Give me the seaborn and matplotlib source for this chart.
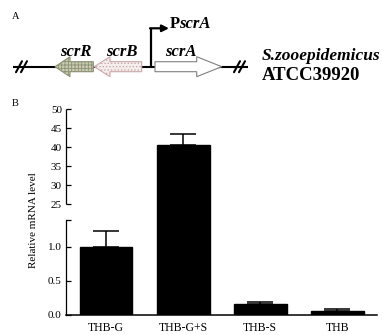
import numpy as np
import pandas as pd
import matplotlib
matplotlib.use("Agg")
import matplotlib.pyplot as plt
from matplotlib.patches import Polygon
import seaborn as sns

# ---------------- data ----------------
categories = ["THB-G", "THB-G+S", "THB-S", "THB"]
values = [1.0, 40.6, 0.157, 0.06]
errors = [0.235, 2.8, 0.03, 0.024]
ytick_vals = [0.0, 0.5, 1.0, 1.4, 25, 30, 35, 40, 45, 50]
ytick_labels = ["0.0", "0.5", "1.0", "", "25", "30", "35", "40", "45", "50"]

genes = ["scrR", "scrB", "scrA"]
gene_tail = [93.3, 141.7, 155.0]
gene_tip = [55.0, 94.3, 221.7]
gene_headbase = [70.0, 110.0, 196.7]
gene_label_x = [76, 122, 181]

# ---------------- style ----------------
sns.set_style("ticks")
plt.rcParams["font.family"] = ["Liberation Serif", "DejaVu Serif"]
plt.rcParams["hatch.linewidth"] = 0.6
for key in ("text.color", "axes.labelcolor", "xtick.color", "ytick.color", "axes.edgecolor"):
    plt.rcParams[key] = "black"

fig = plt.figure(figsize=(3.82, 3.35), dpi=100)

# ---------------- panel A (schematic, pixel coordinates) ----------------
axA = fig.add_axes([0, 0, 1, 1])
axA.set_xlim(0, 382)
axA.set_ylim(335, 0)
axA.axis("off")

yc = 66.7
axA.plot([13, 248], [yc, yc], color="black", lw=1.5, zorder=1, solid_capstyle="butt")
for bx in (16, 234):
    for dx in (0, 5):
        axA.plot([bx + dx, bx + dx + 6], [yc + 5.5, yc - 5.5], color="black", lw=1.5, zorder=3)

styles = [
    dict(facecolor="#c9ccb0", hatch="+++++", edgecolor="#8d9175"),
    dict(facecolor="#f7eeee", hatch=".....", edgecolor="#c9a9a9"),
    dict(facecolor="white", hatch=None, edgecolor="#808080"),
]
for tail, tip, hb, st, name, lx in zip(gene_tail, gene_tip, gene_headbase, styles, genes, gene_label_x):
    pts = [(tail, yc - 5), (hb, yc - 5), (hb, yc - 10), (tip, yc),
           (hb, yc + 10), (hb, yc + 5), (tail, yc + 5)]
    poly = Polygon(pts, closed=True, facecolor=st["facecolor"], edgecolor=st["edgecolor"],
                   hatch=st["hatch"], lw=0.8, zorder=2)
    axA.add_patch(poly)
    axA.text(lx, 56, name, ha="center", va="baseline", fontsize=12,
             fontstyle="italic", fontweight="bold")

# Promoter arrow
axA.plot([150.7, 150.7], [yc, 28.3], color="black", lw=1.6, zorder=3, solid_capstyle="butt")
axA.annotate("", xy=(169, 28.3), xytext=(150.0, 28.3),
             arrowprops=dict(arrowstyle="-|>", lw=1.6, color="black", mutation_scale=10,
                             shrinkA=0, shrinkB=0))
axA.text(170, 28.5, "P", ha="left", va="baseline", fontsize=12, fontweight="bold")
axA.text(179, 28.5, "scrA", ha="left", va="baseline", fontsize=12, fontweight="bold",
         fontstyle="italic")

axA.text(261.5, 60, "S.zooepidemicus", ha="left", va="baseline", fontsize=12.5,
         fontstyle="italic", fontweight="bold")
axA.text(262, 80, "ATCC39920", ha="left", va="baseline", fontsize=13.5, fontweight="bold")

axA.text(12, 19, "A", ha="left", va="baseline", fontsize=7.5)
axA.text(12, 106, "B", ha="left", va="baseline", fontsize=7.5)

# ---------------- panel B (bar chart with broken axis) ----------------
k1 = 0.228 / 23.6
k2 = 1.397 / 25.0


def fwd(y):
    y = np.asarray(y, dtype=float)
    return np.where(y <= 1.4, y,
                    np.where(y <= 25, 1.4 + (y - 1.4) * k1, 1.628 + (y - 25) * k2))


def inv(t):
    t = np.asarray(t, dtype=float)
    return np.where(t <= 1.4, t,
                    np.where(t <= 1.628, 1.4 + (t - 1.4) / k1, 25 + (t - 1.628) / k2))


left, right = 66.0 / 382, 376.5 / 382
bottom, top = 1 - 315 / 335, 1 - 109.3 / 335
ax = fig.add_axes([left, bottom, right - left, top - bottom])
ax.patch.set_alpha(0)

df = pd.DataFrame({"cond": categories, "val": values})
sns.barplot(data=df, x="cond", y="val", color="black", width=0.686, errorbar=None,
            saturation=1, edgecolor="black", ax=ax)
ax.errorbar(np.arange(len(categories)), values,
            yerr=[np.zeros(len(errors)), errors], fmt="none", ecolor="black",
            elinewidth=1.1, capsize=9.4, capthick=1.1, zorder=1)

ax.set_yscale("function", functions=(fwd, inv))
ax.set_ylim(0, 50)
ax.set_xlim(-0.52, 3.51)
ax.set_yticks(ytick_vals)
ax.set_yticklabels(ytick_labels)
ax.minorticks_off()
ax.tick_params(axis="y", direction="in", length=3.5, width=0.9, labelsize=8, pad=3)
ax.tick_params(axis="x", length=0, labelsize=8.5, pad=5)
ax.set_xlabel("")
ax.set_ylabel("")
for s in ("top", "right"):
    ax.spines[s].set_visible(False)
ax.spines["left"].set_bounds(0, 1.4)
ax.spines["left"].set_linewidth(0.9)
ax.spines["bottom"].set_linewidth(1.1)
ax.plot([-0.52, -0.52], [25, 50], color="black", lw=0.9, clip_on=False,
        solid_capstyle="butt")

fig.text(33 / 382, 1 - 220 / 335, "Relative mRNA level", rotation=90,
         ha="center", va="center", fontsize=8)

fig.savefig("out.png", dpi=100)
